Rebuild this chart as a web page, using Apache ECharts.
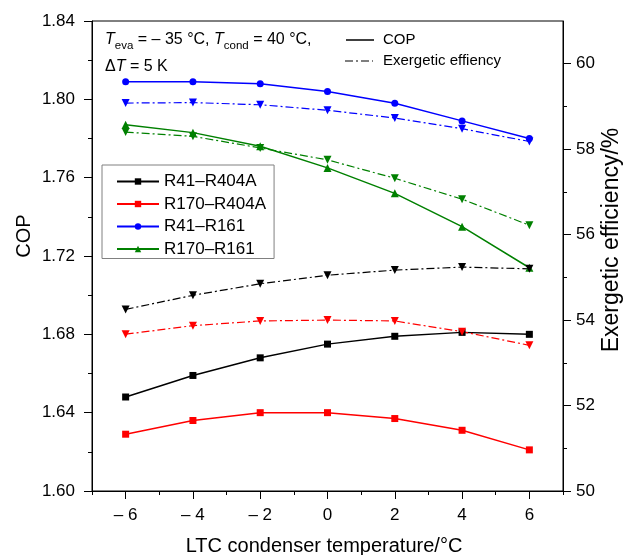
<!DOCTYPE html>
<html>
<head>
<meta charset="utf-8">
<script src="https://cdn.jsdelivr.net/npm/echarts@6/dist/echarts.min.js"></script>
<style>
  html, body { margin: 0; padding: 0; background: #fff; }
  #chart { width: 623px; height: 555px; }
</style>
</head>
<body>
<div id="chart"></div>
<script>
// LTC condenser temperature (°C)
const temps = [-6, -4, -2, 0, 2, 4, 6];

// COP of each refrigerant pair
const copR41R404A  = [1.648, 1.659, 1.668, 1.675, 1.679, 1.681, 1.680];
const copR170R404A = [1.629, 1.636, 1.640, 1.640, 1.637, 1.631, 1.621];
const copR41R161   = [1.809, 1.809, 1.808, 1.804, 1.798, 1.789, 1.780];
const copR170R161  = [1.787, 1.783, 1.776, 1.765, 1.752, 1.735, 1.714];

// Exergetic efficiency (%) of each refrigerant pair
const exR41R404A  = [54.25, 54.58, 54.85, 55.05, 55.17, 55.24, 55.20];
const exR170R404A = [53.67, 53.87, 53.98, 54.00, 53.98, 53.73, 53.41];
const exR41R161   = [59.08, 59.09, 59.04, 58.91, 58.73, 58.48, 58.18];
const exR170R161  = [58.40, 58.30, 58.03, 57.75, 57.32, 56.83, 56.22];

const pairNames = ['R41–R404A', 'R170–R404A', 'R41–R161', 'R170–R161'];
const pairColors = ['#000000', '#ff0000', '#0000ff', '#008000'];
const copSymbols = ['rect', 'rect', 'circle', 'triangle'];

const xMajorTicks = [-6, -4, -2, 0, 2, 4, 6];
const xMinorTicks = [-7, -5, -3, -1, 1, 3, 5, 7];
const rightMajorTicks = [50, 52, 54, 56, 58, 60];
const rightMinorTicks = [51, 53, 55, 57, 59];

const copData = [copR41R404A, copR170R404A, copR41R161, copR170R161];
const exData = [exR41R404A, exR170R404A, exR41R161, exR170R161];

const FONT = '"Liberation Sans", Arial, Helvetica, sans-serif';
const dashDot = [8, 3, 2, 3];

const pts = arr => temps.map((t, i) => [t, arr[i]]);

const series = [];
copData.forEach((arr, k) => {
  series.push({
    name: pairNames[k],
    type: 'line',
    xAxisIndex: 0, yAxisIndex: 0,
    data: pts(arr),
    symbol: copSymbols[k],
    symbolSize: copSymbols[k] === 'triangle' ? 8 : 7,
    color: pairColors[k],
    lineStyle: { width: 1.5, color: pairColors[k] },
    itemStyle: { color: pairColors[k] },
    z: 3
  });
});
exData.forEach((arr, k) => {
  series.push({
    name: pairNames[k],
    type: 'line',
    xAxisIndex: 0, yAxisIndex: 1,
    data: pts(arr),
    symbol: 'triangle',
    symbolRotate: 180,
    symbolSize: 8,
    color: pairColors[k],
    lineStyle: { width: 1.2, color: pairColors[k], type: dashDot },
    itemStyle: { color: pairColors[k] },
    z: 3
  });
});

const gridBox = { left: 92, right: 60, top: 21, bottom: 64 };
const blackLine = { color: '#000', width: 1 };

const option = {
  animation: false,
  backgroundColor: '#ffffff',
  textStyle: { fontFamily: FONT },
  grid: [
    Object.assign({ show: true, borderColor: '#000', borderWidth: 1, backgroundColor: 'transparent', containLabel: false }, gridBox),
    Object.assign({ show: false, containLabel: false }, gridBox)
  ],
  xAxis: [
    {
      type: 'value', gridIndex: 0, position: 'bottom', min: -7, max: 7, interval: 1,
      axisLine: { show: true, onZero: false, lineStyle: blackLine },
      axisTick: { show: true, inside: false, length: 8, customValues: xMajorTicks, lineStyle: blackLine },
      axisLabel: {
        customValues: xMajorTicks, margin: 16, color: '#000', fontSize: 17, fontFamily: FONT,
        formatter: v => (v < 0 ? '– ' + Math.abs(v) : String(v))
      },
      splitLine: { show: false }
    },
    {
      type: 'value', gridIndex: 1, position: 'bottom', min: -7, max: 7, interval: 1,
      axisLine: { show: false, onZero: false },
      axisTick: { show: true, inside: false, length: 4, customValues: xMinorTicks, lineStyle: blackLine },
      axisLabel: { show: false },
      splitLine: { show: false }
    }
  ],
  yAxis: [
    {
      type: 'value', gridIndex: 0, position: 'left', min: 1.60, max: 1.84, interval: 0.04,
      axisLine: { show: true, onZero: false, lineStyle: blackLine },
      axisTick: { show: true, inside: false, length: 8, lineStyle: blackLine },
      minorTick: { show: true, splitNumber: 2, length: 4, lineStyle: blackLine },
      axisLabel: { margin: 17, color: '#000', fontSize: 17, fontFamily: FONT, formatter: v => v.toFixed(2) },
      splitLine: { show: false },
      minorSplitLine: { show: false }
    },
    {
      type: 'value', gridIndex: 0, position: 'right', min: 50, max: 61, interval: 1,
      axisLine: { show: true, onZero: false, lineStyle: blackLine },
      axisTick: { show: true, inside: false, length: 8, customValues: rightMajorTicks, lineStyle: blackLine },
      axisLabel: { customValues: rightMajorTicks, margin: 13, color: '#000', fontSize: 17, fontFamily: FONT },
      splitLine: { show: false }
    },
    {
      type: 'value', gridIndex: 1, position: 'right', min: 50, max: 61, interval: 1,
      axisLine: { show: false, onZero: false },
      axisTick: { show: true, inside: false, length: 4, customValues: rightMinorTicks, lineStyle: blackLine },
      axisLabel: { show: false },
      splitLine: { show: false }
    }
  ],
  legend: {
    data: pairNames,
    orient: 'vertical',
    left: 102, top: 165,
    padding: [8, 8, 1, 14],
    itemWidth: 42, itemHeight: 8, itemGap: 5.5,
    borderColor: '#808080', borderWidth: 1,
    backgroundColor: '#fff',
    textStyle: { fontSize: 17, lineHeight: 17, color: '#000', fontFamily: FONT },
    selectedMode: false
  },
  graphic: [
    // condition note
    {
      type: 'text', left: 105, top: 32, z: 10,
      style: {
        text: '{i|T}{s|eva}{n| = – 35 °C, }{i|T}{s|cond}{n| = 40 °C,}',
        fontFamily: FONT, fill: '#000',
        rich: {
          i: { fontSize: 16, fontStyle: 'italic', fontFamily: FONT, lineHeight: 20, verticalAlign: 'bottom' },
          n: { fontSize: 16, fontFamily: FONT, lineHeight: 20, verticalAlign: 'bottom' },
          s: { fontSize: 11.5, fontFamily: FONT, lineHeight: 11, verticalAlign: 'bottom', padding: [0, 0, -4, 0] }
        }
      }
    },
    {
      type: 'text', left: 105, top: 59, z: 10,
      style: {
        text: '{n|Δ}{i|T}{n| = 5 K}',
        fontFamily: FONT, fill: '#000',
        rich: {
          i: { fontSize: 16, fontStyle: 'italic', fontFamily: FONT },
          n: { fontSize: 16, fontFamily: FONT }
        }
      }
    },
    // line-style key
    { type: 'line', shape: { x1: 346, y1: 40, x2: 374, y2: 40 }, style: { stroke: '#000', lineWidth: 1.5 }, z: 10 },
    { type: 'text', x: 383, y: 40, style: { text: 'COP', fontSize: 15, fontFamily: FONT, fill: '#000', verticalAlign: 'middle' }, z: 10 },
    { type: 'line', shape: { x1: 345, y1: 61, x2: 373, y2: 61 }, style: { stroke: '#000', lineWidth: 1.2, lineDash: dashDot }, z: 10 },
    { type: 'text', x: 383, y: 61, style: { text: 'Exergetic effiency', fontSize: 15, fontFamily: FONT, fill: '#000', verticalAlign: 'middle' }, z: 10 },
    // axis titles
    { type: 'text', x: 24, y: 236, rotation: Math.PI / 2, style: { text: 'COP', fontSize: 20, fontFamily: FONT, fill: '#000', align: 'center', verticalAlign: 'middle' } },
    { type: 'text', x: 612, y: 240, rotation: Math.PI / 2, style: { text: 'Exergetic efficiency/%', fontSize: 23, fontFamily: FONT, fill: '#000', align: 'center', verticalAlign: 'middle' } },
    { type: 'text', x: 324, y: 546, style: { text: 'LTC condenser temperature/°C', fontSize: 20, fontFamily: FONT, fill: '#000', align: 'center', verticalAlign: 'middle' } }
  ],
  series: series
};

const chart = echarts.init(document.getElementById('chart'), null, { renderer: 'canvas' });
chart.setOption(option);
</script>
</body>
</html>
